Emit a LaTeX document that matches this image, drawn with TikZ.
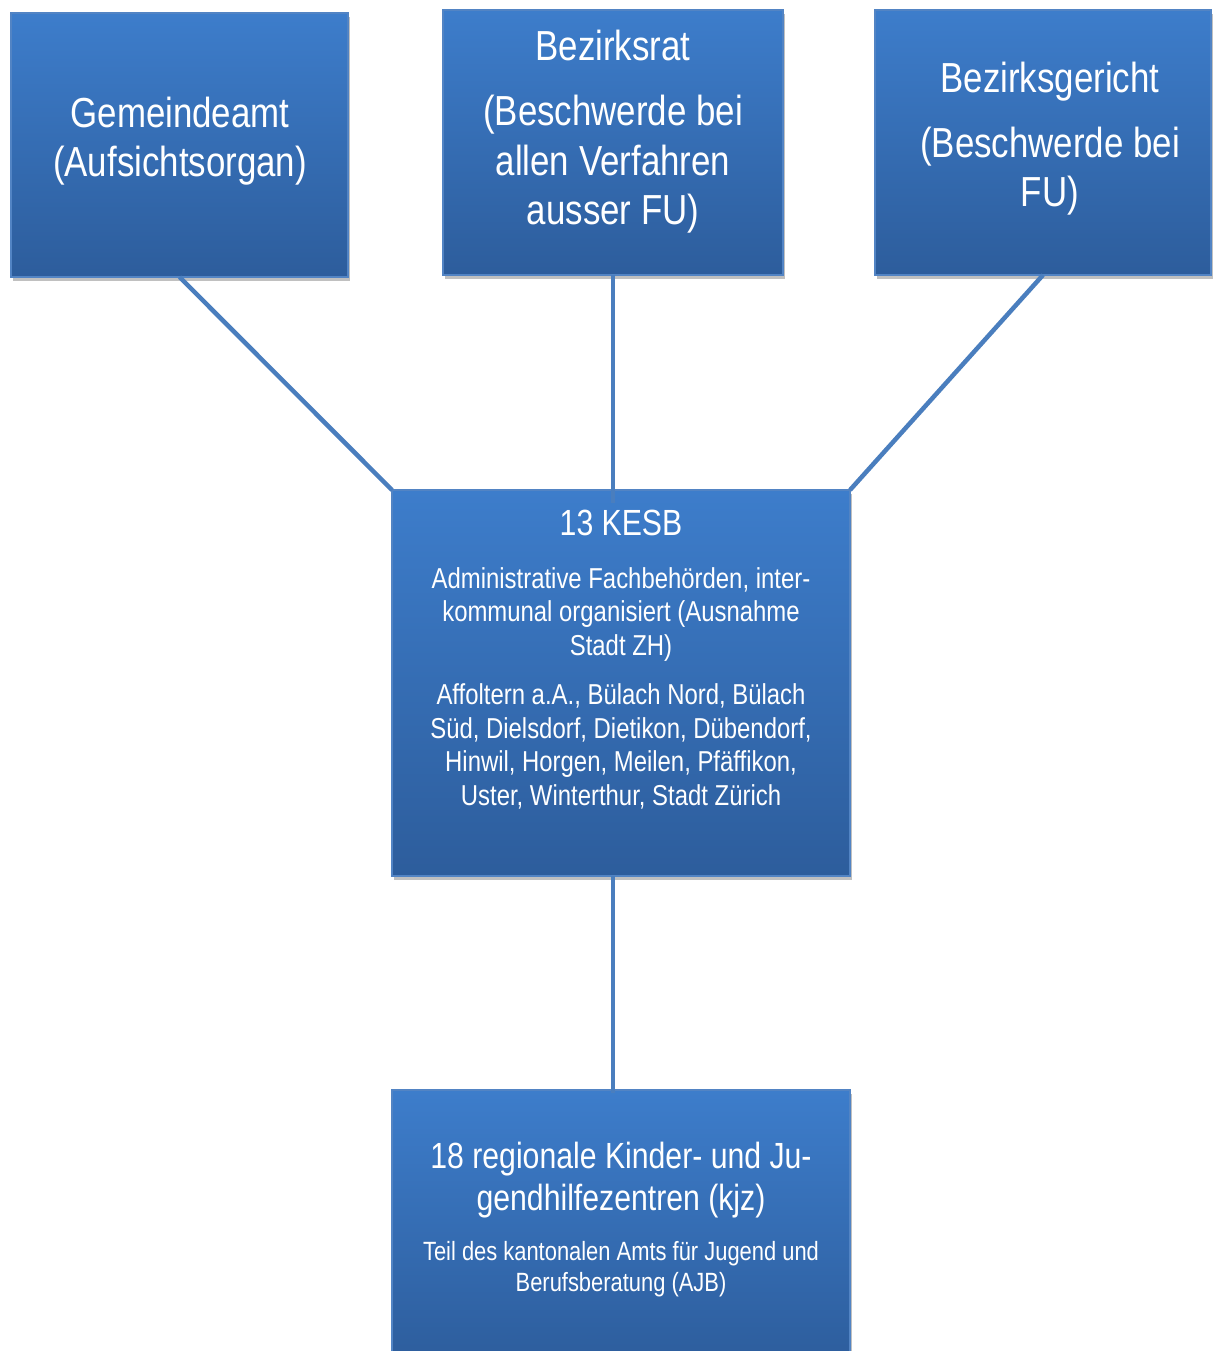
\documentclass[tikz,border=0pt]{standalone}
\usepackage{fontspec}
\setmainfont{Liberation Sans}[FakeStretch=0.83]
\usetikzlibrary{shadows,calc}
\definecolor{boxtop}{RGB}{61,125,203}
\definecolor{boxbot}{RGB}{45,93,156}
\definecolor{boxedge}{RGB}{82,132,196}
\definecolor{conn}{RGB}{74,126,190}
\begin{document}
\begin{tikzpicture}[x=1pt,y=-1pt,
  box/.style={draw=boxedge, line width=1.5pt, top color=boxtop, bottom color=boxbot,
    drop shadow={shadow xshift=2pt, shadow yshift=-4pt, opacity=0.35, fill=black!70},
    inner sep=0pt, outer sep=0pt},
  txt/.style={text=white, inner sep=0pt, align=center, anchor=base},
  big/.style={font=\fontsize{42}{49}\selectfont},
  mid/.style={font=\fontsize{36.4}{42}\selectfont},
  small/.style={font=\fontsize{28.8}{33.5}\selectfont},
  tiny/.style={font=\fontsize{26.4}{31.7}\selectfont},
  conline/.style={draw=conn, line width=4.5pt}
]
\useasboundingbox (0,0) rectangle (1212,1351);
\fill[white] (0,0) rectangle (1212,1351);

% boxes
\node[box, minimum width=337pt, minimum height=264pt] (gem) at (179.5,145) {};
\node[box, minimum width=340pt, minimum height=265pt] (bzr) at (613,142.5) {};
\node[box, minimum width=336pt, minimum height=265pt] (bzg) at (1043,142.5) {};
\node[box, minimum width=458pt, minimum height=386pt] (kesb) at (621,683) {};
\node[box, minimum width=458pt, minimum height=275pt] (kjz) at (621,1227.5) {};

% texts (base anchor = baseline of the last line)
\node[txt, big] (gemt) at (180,177) {Gemeindeamt\\(Aufsichtsorgan)};
\node[txt, big] (bzrt1) at (613,61) {Bezirksrat};
\node[txt, big] (bzrt2) at (613,224) {(Beschwerde bei\\allen Verfahren\\ausser FU)};
\node[txt, big] (bzgt1) at (1050,93) {Bezirksgericht};
\node[txt, big] (bzgt2) at (1050,207) {(Beschwerde bei\\FU)};
\node[txt, mid] (kesbt1) at (621,535.7) {13 KESB};
\node[txt, small] (kesbt2) at (621,655) {Administrative Fachbehörden, inter-\\kommunal organisiert (Ausnahme\\Stadt ZH)};
\node[txt, small] (kesbt3) at (621,805) {Affoltern a.A., Bülach Nord, Bülach\\Süd, Dielsdorf, Dietikon, Dübendorf,\\Hinwil, Horgen, Meilen, Pfäffikon,\\Uster, Winterthur, Stadt Zürich};
\node[txt, mid] (kjzt1) at (621,1210) {18 regionale Kinder- und Ju-\\gendhilfezentren (kjz)};
\node[txt, tiny] (kjzt2) at (621,1291.7) {Teil des kantonalen Amts für Jugend und\\Berufsberatung (AJB)};

% connectors
\draw[conline] (gem.south) -- (kesb.north west);
\draw[conline] (bzg.south) -- (kesb.north east);
\draw[conline] (bzr.south) -- ($(bzr.south |- kesb.north)+(0,13)$);
\draw[conline] ($(bzr.south |- kesb.south)$) -- ($(bzr.south |- kjz.north)+(0,3)$);
\end{tikzpicture}
\end{document}
